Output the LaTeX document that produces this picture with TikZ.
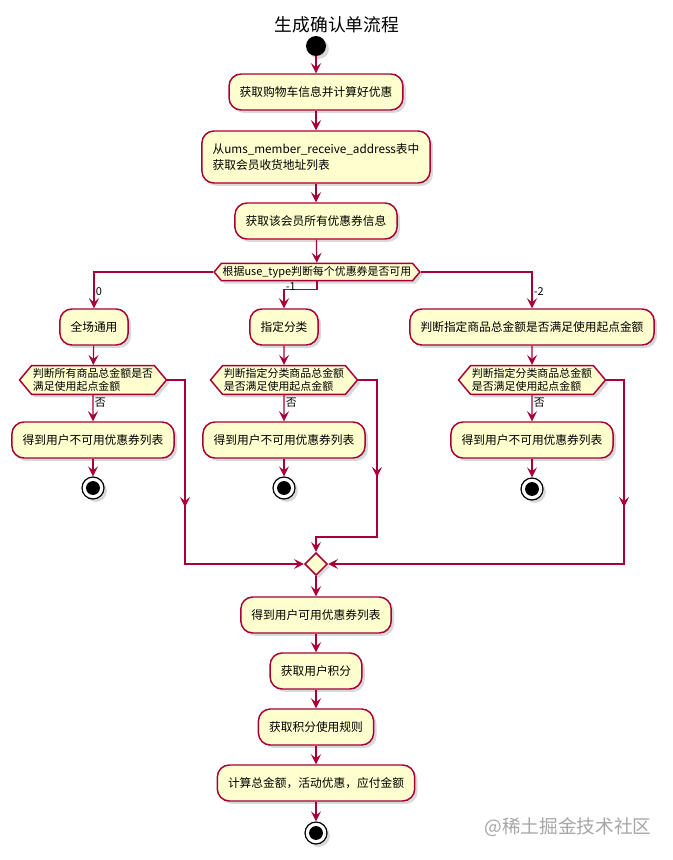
\documentclass[tikz,border=0pt]{standalone}
\usepackage{fontspec}
\setmainfont{Noto Sans CJK SC}
\usetikzlibrary{arrows.meta,positioning,shapes.geometric,shapes.symbols,shadows}
\definecolor{umlred}{HTML}{A80036}
\definecolor{umlfill}{HTML}{FEFECE}
\tikzset{
  shade3/.style={drop shadow={shadow xshift=2.2pt, shadow yshift=-2.2pt, opacity=0.3}},
  act/.style={draw=umlred, fill=umlfill, line width=1.1pt, rounded corners=9pt,
              align=center, font=\fontsize{8.8}{11.3}\selectfont,
              minimum height=27pt, inner xsep=8pt, inner ysep=3pt, shade3},
  chk/.style={signal, signal to=west and east, signal pointer angle=100,
              draw=umlred, fill=umlfill, line width=1.1pt, align=left,
              font=\fontsize{8.2}{9.8}\selectfont, inner xsep=1pt, inner ysep=2pt, shade3},
  joinpt/.style={diamond, draw=umlred, fill=umlfill, line width=1.1pt,
                 minimum width=17pt, minimum height=17pt, inner sep=0pt, shade3},
  startdot/.style={circle, fill=black, minimum size=15pt, inner sep=0pt, shade3},
  enddot/.style={circle, draw=black, fill=white, line width=0.9pt, minimum size=16.5pt,
                 inner sep=0pt, shade3,
                 path picture={\fill[black] (path picture bounding box.center) circle (5.2pt);}},
  link/.style={-{Stealth[length=7.5pt,width=7.5pt,inset=3pt]}, draw=umlred, line width=0.9pt},
  lbl/.style={font=\fontsize{8.2}{9}\selectfont, inner sep=1pt}
}

\begin{document}
\begin{tikzpicture}[x=0.75pt,y=-0.75pt]
  \useasboundingbox (0,0) rectangle (672,860);
  \node[font=\fontsize{13.3}{16}\selectfont] (title) at (337,25) {生成确认单流程};
  \node[startdot] (start) at (316,46) {};
  \node[act] (cart) at (316,92) {获取购物车信息并计算好优惠};
  \node[act, align=left, minimum height=39pt, font=\fontsize{8.8}{12}\selectfont] (addr) at (316,157) {从ums\_member\_receive\_address表中\\获取会员收货地址列表};
  \node[act] (coupon) at (316,221) {获取该会员所有优惠券信息};
  \node[chk] (usetype) at (317,272) {根据use\_type判断每个优惠券是否可用};
  \draw[link] (start) -- (cart);
  \draw[link] (cart) -- (addr);
  \draw[link] (addr) -- (coupon);
  \draw[link] (coupon) -- (usetype);

  % three coupon types
  \node[act] (all) at (94,327) {全场通用};
  \node[act] (cat) at (284,327) {指定分类};
  \node[act] (prod) at (532,327) {判断指定商品总金额是否满足使用起点金额};
  \draw[link] (usetype.west) -| node[lbl, pos=0.77, anchor=west] (l0) {0} (all);
  \draw[link] (usetype.south) -- ++(0,8) -| node[lbl, pos=0.5, anchor=west, yshift=2pt] (l1) {-1} (cat);
  \draw[link] (usetype.east) -| node[lbl, pos=0.77, anchor=west] (l2) {-2} (prod);

  \node[chk] (allchk) at (93,380) {判断所有商品总金额是否\\满足使用起点金额};
  \node[chk] (catchk) at (284,380) {判断指定分类商品总金额\\是否满足使用起点金额};
  \node[chk] (prodchk) at (532,380) {判断指定分类商品总金额\\是否满足使用起点金额};
  \draw[link] (all) -- (allchk);
  \draw[link] (cat) -- (catchk);
  \draw[link] (prod) -- (prodchk);

  \node[act] (allno) at (93,440) {得到用户不可用优惠券列表};
  \node[act] (catno) at (284,440) {得到用户不可用优惠券列表};
  \node[act] (prodno) at (532,440) {得到用户不可用优惠券列表};
  \draw[link] (allchk) -- node[lbl, pos=0.3, anchor=west] (n0) {否} (allno);
  \draw[link] (catchk) -- node[lbl, pos=0.3, anchor=west] (n1) {否} (catno);
  \draw[link] (prodchk) -- node[lbl, pos=0.3, anchor=west] (n2) {否} (prodno);

  \node[enddot] (allend) at (93,488) {};
  \node[enddot] (catend) at (284,488) {};
  \node[enddot] (prodend) at (532,489) {};
  \draw[link] (allno) -- (allend);
  \draw[link] (catno) -- (catend);
  \draw[link] (prodno) -- (prodend);

  % merge
  \node[joinpt] (join) at (316,564) {};
  \coordinate (ja) at (185,507);
  \coordinate (jc) at (377,477);
  \coordinate (jp) at (624,507);
  \draw[link] (allchk.east) -| (ja);
  \draw[link] (ja) ++(0,-6) |- (join);
  \draw[link] (catchk.east) -| (jc);
  \draw[link] (jc) ++(0,-6) -- ++(0,66) -| (join);
  \draw[link] (prodchk.east) -| (jp);
  \draw[link] (jp) ++(0,-6) |- (join);

  \node[act] (avail) at (316,615) {得到用户可用优惠券列表};
  \node[act] (points) at (316,671) {获取用户积分};
  \node[act] (rule) at (316,727) {获取积分使用规则};
  \node[act] (total) at (316,783) {计算总金额，活动优惠，应付金额};
  \node[enddot] (stop) at (316,833) {};
  \draw[link] (join) -- (avail);
  \draw[link] (avail) -- (points);
  \draw[link] (points) -- (rule);
  \draw[link] (rule) -- (total);
  \draw[link] (total) -- (stop);

  \node[font=\fontsize{14}{16}\selectfont, text=black!35] (mark) at (568,827) {@稀土掘金技术社区};
\end{tikzpicture}
\end{document}
